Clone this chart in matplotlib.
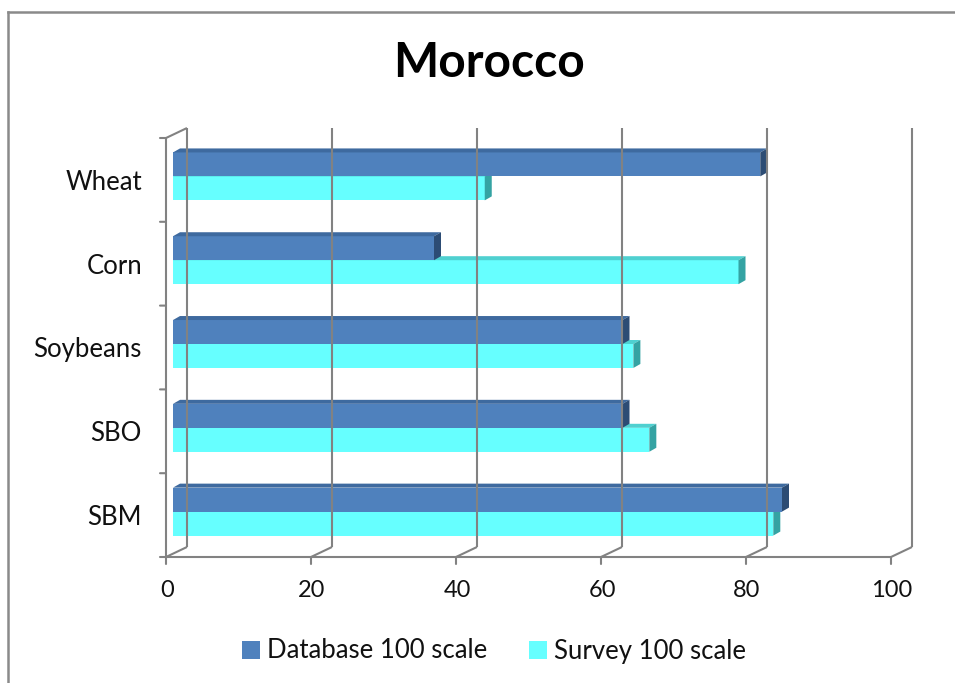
import matplotlib
matplotlib.use("Agg")
import matplotlib.pyplot as plt
from matplotlib.patches import Polygon, Patch
from matplotlib.lines import Line2D
import numpy as np

plt.rcParams['font.family'] = ['Lato', 'DejaVu Sans']

categories = ["Wheat", "Corn", "Soybeans", "SBO", "SBM"]
database = [81, 36, 62, 62, 84]
survey = [43, 78, 63.5, 65.7, 82.8]
xticks = [0, 20, 40, 60, 80, 100]
series_names = ["Database 100 scale", "Survey 100 scale"]

db_colors = ("#4f81bd", "#3e6a9f", "#2c4c74")      # front, top, side
sv_colors = ("#66ffff", "#4fd0d0", "#34a3a3")
line_col = "#828282"

W, H = 955, 683
fig = plt.figure(figsize=(W / 100, H / 100), dpi=100)

# front plane of the 3-D box, in pixels
left, right, top, bottom = 166, 891, 138, 557
ax = fig.add_axes([left / W, 1 - bottom / H, (right - left) / W, (bottom - top) / H])
ax.set_xlim(0, 100)
ax.set_ylim(-0.5, len(categories) - 0.5)
ax.axis("off")

px_x = (right - left) / 100.0
px_y = (bottom - top) / len(categories)
# depth of the box and of the bars, converted to data units
back_dx, back_dy = 21 / px_x, 10 / px_y
bar_dx0, bar_dy0 = 7 / px_x, 3.5 / px_y
bar_dx, bar_dy = 7 / px_x, 4 / px_y

ymin, ymax = -0.5, len(categories) - 0.5
lw = 1.5
lk = dict(color=line_col, lw=lw, clip_on=False, solid_capstyle="butt")

# back wall gridlines and floor diagonals
for t in xticks:
    ax.plot([t + back_dx, t + back_dx], [ymin + back_dy, ymax + back_dy], **lk)
    ax.plot([t, t + back_dx], [ymin, ymin + back_dy], **lk)
# left wall
ax.plot([0, 0], [ymin, ymax], **lk)
ax.plot([0, back_dx], [ymax, ymax + back_dy], **lk)
# front floor edge
ax.plot([0, 100], [ymin, ymin], **lk)
# tick marks
for t in xticks:
    ax.annotate("", xy=(t, ymin), xytext=(0, -7), textcoords="offset pixels",
                arrowprops=dict(arrowstyle="-", color=line_col, lw=lw, shrinkA=0, shrinkB=0))
for b in np.arange(ymin, ymax + 0.01, 1.0):
    ax.annotate("", xy=(0, b), xytext=(-6, 0), textcoords="offset pixels",
                arrowprops=dict(arrowstyle="-", color=line_col, lw=lw, shrinkA=0, shrinkB=0))

bh = 0.286
ypos = np.arange(len(categories))[::-1]


def bar3d(y0, val, cols):
    x0 = bar_dx0
    y0 = y0 + bar_dy0
    x1 = x0 + val
    y1 = y0 + bh
    ax.add_patch(Polygon([(x0, y0), (x1, y0), (x1, y1), (x0, y1)], closed=True,
                         fc=cols[0], ec="none", clip_on=False))
    ax.add_patch(Polygon([(x0, y1), (x1, y1), (x1 + bar_dx, y1 + bar_dy), (x0 + bar_dx, y1 + bar_dy)],
                         closed=True, fc=cols[1], ec="none", clip_on=False))
    ax.add_patch(Polygon([(x1, y0), (x1 + bar_dx, y0 + bar_dy), (x1 + bar_dx, y1 + bar_dy), (x1, y1)],
                         closed=True, fc=cols[2], ec="none", clip_on=False))


for i, y in enumerate(ypos):
    bar3d(y - bh, survey[i], sv_colors)
    bar3d(y, database[i], db_colors)

for i, y in enumerate(ypos):
    ax.annotate(categories[i], xy=(0, y), xytext=(-24, -10), textcoords="offset pixels",
                ha="right", va="baseline", fontsize=18.5, color="#111111")
for t in xticks:
    ax.annotate(str(t), xy=(t, ymin), xytext=(1, -40), textcoords="offset pixels",
                ha="center", va="baseline", fontsize=17, color="#111111")

fig.text(489 / W, 1 - 77 / H, "Morocco", ha="center", va="baseline",
         fontsize=34.5, fontweight="bold", color="black")

handles = [Patch(fc=db_colors[0], ec="none"), Patch(fc=sv_colors[0], ec="none")]
fig.legend(handles, series_names, loc="center", bbox_to_anchor=(494 / W, 1 - 651 / H),
           ncol=2, frameon=False, fontsize=18.5, handlelength=0.7, handleheight=0.7,
           handletextpad=0.3, columnspacing=1.6, labelcolor="#111111")

# chart border
fig.add_artist(Line2D([8 / W, 1], [1 - 12 / H, 1 - 12 / H], color="#8a8a8a", lw=1.8))
fig.add_artist(Line2D([8 / W, 8 / W], [0, 1 - 12 / H], color="#8a8a8a", lw=1.8))

fig.savefig("out.png", dpi=100, facecolor="white")
